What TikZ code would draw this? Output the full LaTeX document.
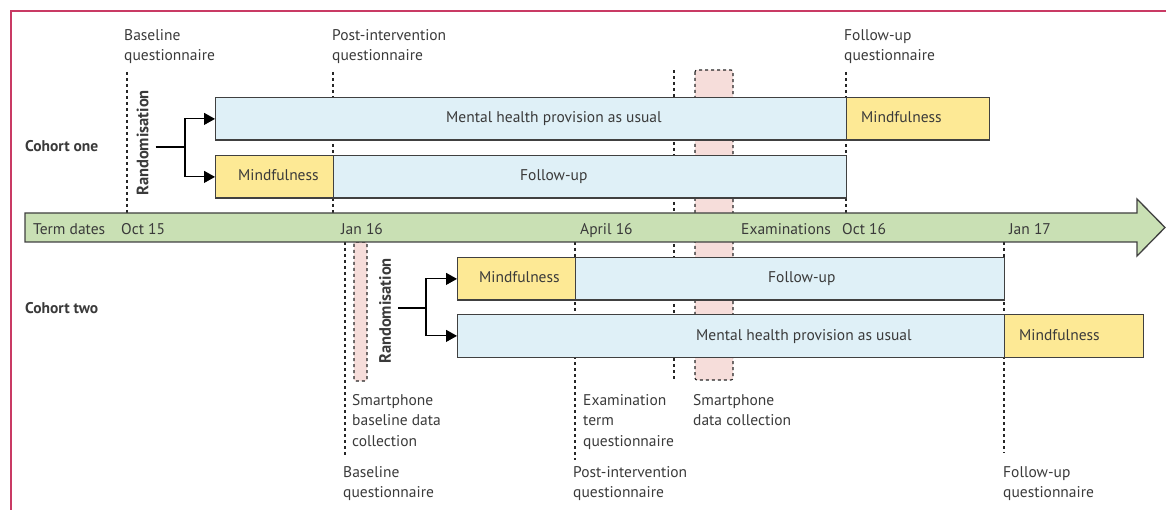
\documentclass[tikz,border=0pt]{standalone}
\usepackage{fontspec}
\setmainfont{PT Sans}
\usetikzlibrary{arrows.meta}

\definecolor{ink}{HTML}{3A3A3A}
\definecolor{edge}{HTML}{404040}
\definecolor{usualblue}{HTML}{DFF0F7}
\definecolor{mindyellow}{HTML}{FDE995}
\definecolor{termgreen}{HTML}{C9E0B4}
\definecolor{bandpink}{HTML}{F6DDDA}
\definecolor{framered}{HTML}{C93A64}

\begin{document}
\begin{tikzpicture}[x=1pt, y=-1pt,
  bar/.style={draw=edge, line width=1.3pt, inner sep=0pt, anchor=north west, minimum height=42.5pt},
  usual/.style={bar, fill=usualblue},
  mind/.style={bar, fill=mindyellow},
  txt/.style={text=ink, inner sep=0pt, anchor=base west, align=left, font=\fontsize{15.5}{20.5}\selectfont},
  cohort/.style={txt, font=\fontsize{15.5}{20.5}\selectfont\bfseries},
  rnd/.style={text=ink, inner sep=0pt, rotate=90, font=\fontsize{16.5}{18}\selectfont\bfseries},
  qline/.style={draw=black!85, line width=1.1pt, dash pattern=on 3pt off 3pt},
  band/.style={qline, fill=bandpink, rounded corners=2pt},
  fork/.style={draw=black, line width=1.1pt},
  tip/.style={fork, -{Triangle[length=11pt,width=12pt]}}]

\path [use as bounding box] (0,0) rectangle (1166,510);

% FRAME
\draw [framered, line width=1.3pt] (11,510) -- (11,11) -- (1166,11);

% QUESTIONNAIRES
\draw [qline] (127,72) -- (127,213);
\draw [qline] (333,72) -- (333,213);
\draw [qline] (846,72) -- (846,213);
\draw [qline] (674,70) -- (674,380);
\draw [qline] (345,242) -- (345,455);
\draw [qline] (575,242) -- (575,460);
\draw [qline] (1004,242) -- (1004,453);

% SMARTPHONE DATA
\draw [band] (695,70) rectangle (733,380);
\draw [band] (354,242) rectangle (367,381);

% TERM DATES
\draw [draw=edge, line width=1.3pt, fill=termgreen]
  (25,213) -- (1137,213) -- (1137,199) -- (1165,227.5) -- (1137,256) -- (1137,242) -- (25,242) -- cycle;
\node [txt] at (33,235) {Term dates};
\node [txt] at (121,235) {Oct 15};
\node [txt] at (341,235) {Jan 16};
\node [txt] at (580,235) {April 16};
\node [txt] at (741,235) {Examinations};
\node [txt] at (842,235) {Oct 16};
\node [txt] at (1009,235) {Jan 17};

% COHORT ONE
\node [cohort] at (25,152) {Cohort one};
\node [usual, minimum width=631pt] (c1usual) at (215,97) {};
\node [mind, minimum width=143pt] (c1late) at (846,97) {};
\node [mind, minimum width=118pt] (c1mind) at (215,155) {};
\node [usual, minimum width=513pt] (c1follow) at (333,155) {};
\node [txt] at (446,123) {Mental health provision as usual};
\node [txt] at (861,123) {Mindfulness};
\node [txt] at (238,181) {Mindfulness};
\node [txt] at (520,181) {Follow-up};

\node [rnd] (rand1) at (142.5,143) {Randomisation};
\coordinate (fork1) at (185,147);
\draw [fork] ([xshift=7pt]rand1.south |- fork1) -- (fork1);
\draw [tip] (fork1) |- (c1usual.west);
\draw [tip] (fork1) |- (c1mind.west);

% COHORT TWO
\node [cohort] at (25,313) {Cohort two};
\node [mind, minimum width=118pt] (c2mind) at (457,257) {};
\node [usual, minimum width=429pt] (c2follow) at (575,257) {};
\node [usual, minimum width=547pt] (c2usual) at (457,314) {};
\node [mind, minimum width=139pt] (c2late) at (1004,314) {};
\node [txt] at (479,283) {Mindfulness};
\node [txt] at (768,283) {Follow-up};
\node [txt] at (696,340) {Mental health provision as usual};
\node [txt] at (1019,340) {Mindfulness};

\node [rnd] (rand2) at (385,311) {Randomisation};
\coordinate (fork2) at (426,308);
\draw [fork] ([xshift=7pt]rand2.south |- fork2) -- (fork2);
\draw [tip] (fork2) |- (c2mind.west);
\draw [tip] (fork2) |- (c2usual.west);

% NOTES (base = last line)
\node [txt] at (124,61) {Baseline\\questionnaire};
\node [txt] at (332,61) {Post-intervention\\questionnaire};
\node [txt] at (844,61) {Follow-up\\questionnaire};
\node [txt] at (352,446) {Smartphone\\baseline data\\collection};
\node [txt] at (583,446) {Examination\\term\\questionnaire};
\node [txt] at (693,425.5) {Smartphone\\data collection};
\node [txt] at (343,497.5) {Baseline\\questionnaire};
\node [txt] at (573,497.5) {Post-intervention\\questionnaire};
\node [txt] at (1003,497.5) {Follow-up\\questionnaire};

\end{tikzpicture}
\end{document}
